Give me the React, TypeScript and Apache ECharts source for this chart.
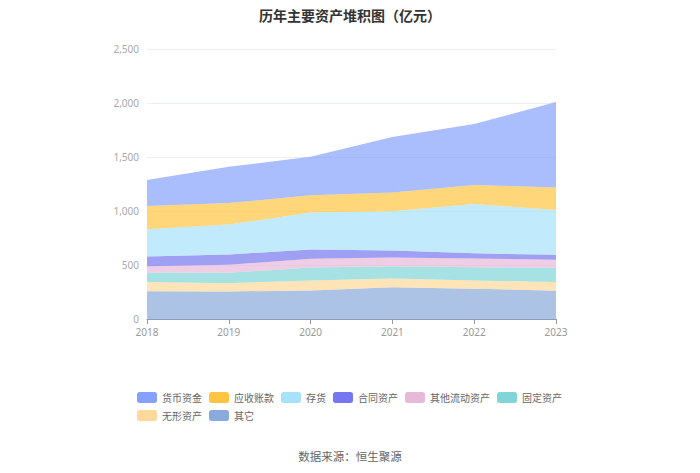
import React, { useEffect, useRef } from "react";
import * as echarts from "echarts";

const years = ["2018", "2019", "2020", "2021", "2022", "2023"];
const legendOrder = ["货币资金", "应收账款", "存货", "合同资产", "其他流动资产", "固定资产", "无形资产", "其它"];

const cash = [240, 336, 358, 513, 565, 791];
const receivables = [215, 200, 160, 175, 175, 209];
const inventory = [253, 277, 342, 363, 456, 415];
const contractAssets = [89, 95, 86, 65, 49, 46];
const otherCurrent = [58, 74, 80, 80, 80, 74];
const fixedAssets = [89, 96, 120, 114, 123, 132];
const intangible = [84, 77, 92, 80, 77, 80];
const others = [258, 255, 265, 295, 280, 262];

const colors: Record<string, string> = {
  货币资金: "#86a1fb",
  应收账款: "#ffc542",
  存货: "#a7e1fb",
  合同资产: "#7676f0",
  其他流动资产: "#e8b8d8",
  固定资产: "#80d5d8",
  无形资产: "#ffd99a",
  其它: "#8aa9dc",
};

const stackOrder: [string, number[]][] = [
  ["其它", others],
  ["无形资产", intangible],
  ["固定资产", fixedAssets],
  ["其他流动资产", otherCurrent],
  ["合同资产", contractAssets],
  ["存货", inventory],
  ["应收账款", receivables],
  ["货币资金", cash],
];

export default function App() {
  const ref = useRef<HTMLDivElement>(null);
  useEffect(() => {
    if (!ref.current) return;
    document.body.style.margin = "0";
    const chart = echarts.init(ref.current, null, { renderer: "svg" });
    chart.setOption({
      animation: false,
      title: {
        text: "历年主要资产堆积图（亿元）",
        left: "center",
        top: 3,
        textStyle: { fontSize: 14, fontWeight: "bold", color: "#333", fontFamily: "Noto Sans CJK SC" },
      },
      grid: { left: 147, right: 144, top: 49, bottom: 154 },
      legend: {
        data: legendOrder,
        left: 132,
        top: 387,
        width: 440,
        itemWidth: 20,
        itemHeight: 11,
        itemGap: 7,
        icon: "roundRect",
        textStyle: { fontSize: 10, color: "#666", fontFamily: "Noto Sans CJK SC" },
      },
      graphic: [
        {
          type: "text",
          left: "center",
          top: 450,
          style: { text: "数据来源：恒生聚源", fontSize: 11.5, fill: "#666", fontFamily: "Noto Sans CJK SC" },
        },
      ],
      xAxis: {
        type: "category",
        data: years,
        boundaryGap: false,
        axisLine: { lineStyle: { color: "#8e9cb8" } },
        axisTick: { lineStyle: { color: "#999" } },
        axisLabel: { fontSize: 10, color: "#999", margin: 8, fontFamily: "Noto Sans" },
      },
      yAxis: {
        type: "value",
        min: 0,
        max: 2500,
        interval: 500,
        axisLabel: { fontSize: 10, color: "#aaa", fontFamily: "Noto Sans", formatter: (v: number) => v.toLocaleString("en-US") },
        splitLine: { lineStyle: { color: "#eceef5" } },
      },
      series: stackOrder.map(([name, data]) => ({
        name,
        type: "line",
        stack: "total",
        data,
        symbol: "none",
        showSymbol: false,
        lineStyle: { width: 0 },
        itemStyle: { color: colors[name] },
        areaStyle: { color: colors[name], opacity: 0.7 },
      })),
    });
    return () => chart.dispose();
  }, []);
  return <div ref={ref} style={{ width: 700, height: 473 }} />;
}
